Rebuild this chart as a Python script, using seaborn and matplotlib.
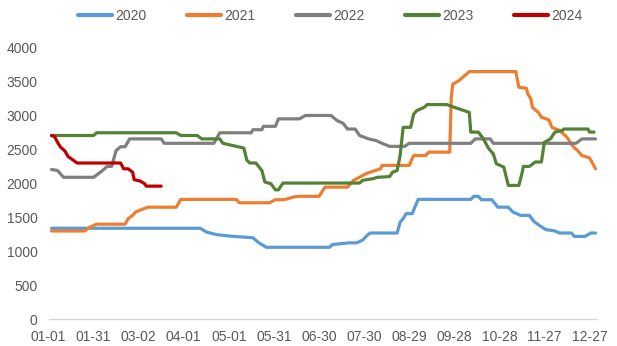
import matplotlib
matplotlib.use("Agg")
import matplotlib.pyplot as plt
import seaborn as sns
import pandas as pd

# ---- data ----
days_2020 = [2, 101, 105, 112, 123, 130, 136, 140, 145, 187, 189, 200, 205, 209, 212, 214, 232, 234, 236, 238,
             242, 246, 281, 283, 286, 288, 295, 299, 306, 309, 314, 320, 323, 328, 331, 337, 340, 348, 350, 357,
             361, 364]
vals_2020 = [1340, 1340, 1285, 1245, 1220, 1210, 1200, 1125, 1060, 1060, 1100, 1125, 1125, 1165, 1235, 1270, 1270,
             1430, 1480, 1555, 1555, 1765, 1765, 1810, 1810, 1760, 1760, 1650, 1650, 1580, 1530, 1530, 1440, 1360,
             1320, 1300, 1270, 1270, 1220, 1220, 1270, 1270]

days_2021 = [2, 24, 27, 32, 51, 53, 56, 58, 62, 66, 85, 88, 125, 127, 147, 151, 157, 163, 167, 180, 184, 199, 203,
             212, 221, 222, 240, 243, 251, 253, 267, 268, 269, 273, 280, 311, 313, 318, 319, 321, 322, 326, 328,
             333, 335, 340, 345, 349, 352, 355, 360, 361, 364]
vals_2021 = [1300, 1300, 1350, 1400, 1400, 1480, 1530, 1580, 1615, 1650, 1650, 1765, 1765, 1715, 1715, 1760, 1760,
             1800, 1810, 1810, 1945, 1945, 2045, 2150, 2215, 2265, 2265, 2410, 2410, 2460, 2460, 3265, 3460, 3510,
             3645, 3645, 3415, 3400, 3315, 3245, 3120, 3045, 2975, 2935, 2825, 2780, 2680, 2545, 2485, 2410, 2375,
             2340, 2215]

days_2022 = [2, 6, 10, 30, 36, 39, 42, 45, 48, 51, 54, 75, 77, 110, 114, 135, 136, 142, 143, 151, 153, 167, 171,
             188, 192, 196, 199, 204, 207, 213, 218, 223, 227, 237, 240, 281, 284, 294, 296, 351, 355, 364]
vals_2022 = [2205, 2190, 2090, 2090, 2190, 2250, 2250, 2485, 2540, 2540, 2655, 2655, 2590, 2590, 2745, 2745, 2790,
             2790, 2840, 2840, 2950, 2950, 3000, 3000, 2925, 2885, 2800, 2800, 2705, 2655, 2630, 2580, 2545, 2545,
             2590, 2590, 2655, 2655, 2590, 2590, 2655, 2655]

days_2023 = [2, 30, 32, 85, 88, 99, 102, 114, 116, 123, 130, 132, 134, 138, 142, 144, 148, 151, 153, 156, 207, 209,
             216, 219, 227, 229, 232, 234, 236, 241, 243, 245, 250, 252, 265, 270, 280, 281, 286, 289, 293, 296,
             298, 303, 306, 313, 315, 316, 320, 324, 328, 330, 334, 337, 342, 343, 359, 360, 363]
vals_2023 = [2705, 2705, 2745, 2745, 2705, 2705, 2655, 2655, 2590, 2555, 2520, 2340, 2300, 2300, 2190, 2020, 1995,
             1905, 1905, 2005, 2005, 2045, 2070, 2090, 2100, 2165, 2190, 2410, 2825, 2825, 3020, 3070, 3120, 3160,
             3160, 3120, 3045, 2755, 2755, 2670, 2510, 2435, 2290, 2240, 1970, 1970, 2140, 2250, 2250, 2315, 2315,
             2605, 2655, 2755, 2780, 2800, 2800, 2755, 2755]

days_2024 = [2, 4, 6, 8, 11, 13, 16, 19, 48, 50, 53, 56, 57, 61, 64, 65, 75]
vals_2024 = [2705, 2690, 2605, 2535, 2475, 2395, 2350, 2300, 2300, 2215, 2215, 2165, 2055, 2035, 1995, 1960, 1960]

years = ["2020", "2021", "2022", "2023", "2024"]
tick_days = [0, 30, 60, 90, 120, 150, 180, 210, 240, 270, 300, 330, 360]
tick_labels = ["01-01", "01-31", "03-02", "04-01", "05-01", "05-31", "06-30",
               "07-30", "08-29", "09-28", "10-28", "11-27", "12-27"]
y_ticks = [0, 500, 1000, 1500, 2000, 2500, 3000, 3500, 4000]
colors = ["#5B9BD5", "#ED7D31", "#7F7F7F", "#548235", "#C00000"]

series = {"2020": (days_2020, vals_2020), "2021": (days_2021, vals_2021),
          "2022": (days_2022, vals_2022), "2023": (days_2023, vals_2023),
          "2024": (days_2024, vals_2024)}
frames = []
for y in years:
    d, v = series[y]
    frames.append(pd.DataFrame({"day": d, "value": v, "year": y}))
df = pd.concat(frames, ignore_index=True)

# ---- plot ----
sns.set_theme(style="white")
plt.rcParams["font.family"] = ["Liberation Sans", "DejaVu Sans"]
fs = 10

fig = plt.figure(figsize=(6.17, 3.46), dpi=100)
ax = fig.add_axes([48.5 / 617, 1 - 319.3 / 346, (597 - 48.5) / 617, (319.3 - 47.5) / 346])

sns.lineplot(data=df, x="day", y="value", hue="year", hue_order=years,
             palette=colors, estimator=None, sort=False, linewidth=2.3, ax=ax)

ax.set_xlim(0, 365)
ax.set_ylim(0, 4000)
ax.set_xticks(tick_days)
ax.set_xticklabels(tick_labels)
ax.set_yticks(y_ticks)
ax.set_xlabel("")
ax.set_ylabel("")
ax.tick_params(axis="both", length=0, labelsize=fs, colors="#595959")
ax.tick_params(axis="y", pad=8)
ax.tick_params(axis="x", pad=8)
for s in ["top", "right", "left"]:
    ax.spines[s].set_visible(False)
ax.spines["bottom"].set_color("#D9D9D9")
ax.spines["bottom"].set_linewidth(1)

ax.legend_.remove()
handles, labels = ax.get_legend_handles_labels()
for h in handles:
    h.set_linewidth(3)
fig.legend(handles, labels, loc="center", bbox_to_anchor=(0.535, 0.955), ncol=5,
           frameon=False, fontsize=fs, handlelength=2.5, handletextpad=0.2,
           columnspacing=2.9, labelcolor="#595959")

fig.savefig("out.png", dpi=100)
